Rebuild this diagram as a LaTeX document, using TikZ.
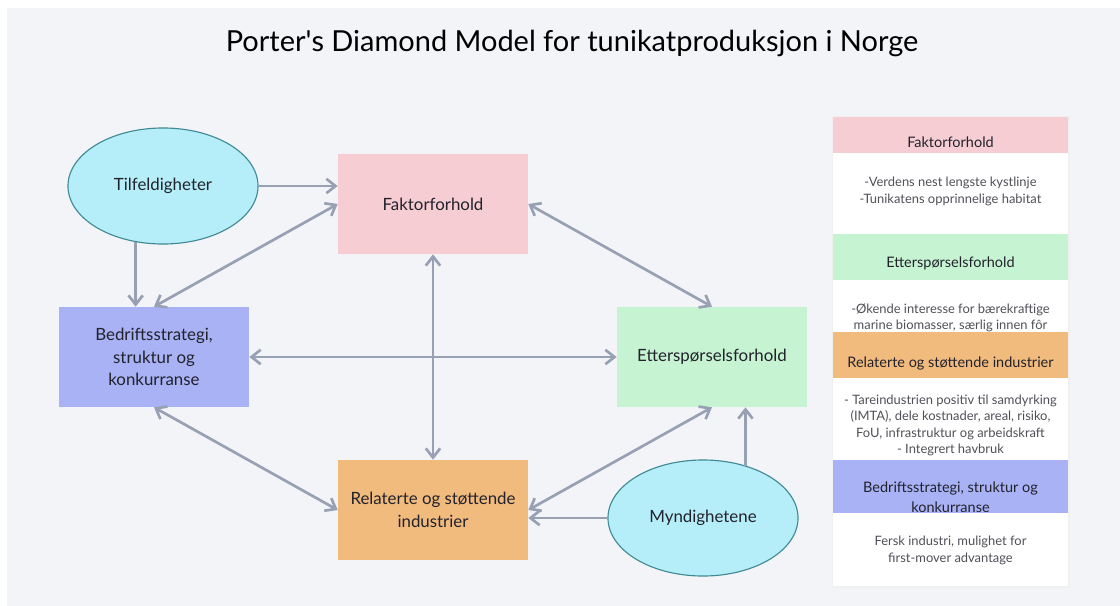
\documentclass[tikz,border=0pt]{standalone}
\usepackage{fontspec}
\setmainfont{Lato}
\usetikzlibrary{shapes.geometric,arrows.meta}

\definecolor{bgcol}{HTML}{F3F4F8}
\definecolor{txtcol}{HTML}{22222C}
\definecolor{bodycol}{HTML}{505058}
\definecolor{arrowcol}{HTML}{98A0B3}
\definecolor{faktcol}{HTML}{F6CDD3}
\definecolor{ettcol}{HTML}{C6F4D2}
\definecolor{relcol}{HTML}{F2BB7E}
\definecolor{bedcol}{HTML}{A8B2F4}
\definecolor{ellfill}{HTML}{B5EEF8}
\definecolor{elldraw}{HTML}{3F8A95}

\begin{document}
\begin{tikzpicture}[x=0.025cm,y=-0.025cm]

    % let's define some key values
    \def\panell{833}
    \def\panelr{1068}
    \def\panelc{950.5}

    % Styles
    \tikzset{
      box/.style={rectangle, minimum width=4.75cm, minimum height=2.5cm,
        align=center, text=txtcol, font=\fontsize{12}{16}\selectfont},
      chance/.style={ellipse, draw=elldraw, fill=ellfill, line width=0.8pt,
        minimum width=4.75cm, minimum height=2.9cm, inner sep=0pt,
        text=txtcol, font=\fontsize{12}{16}\selectfont},
      link/.style={draw=arrowcol, line width=1.9pt,
        -{Straight Barb[length=2.3mm,width=3.6mm]}},
      twoway/.style={link,
        {Straight Barb[length=2.3mm,width=3.6mm]}-{Straight Barb[length=2.3mm,width=3.6mm]}},
      head/.style={text=txtcol, align=center, font=\fontsize{10.3}{14.2}\selectfont},
      body/.style={text=bodycol, align=center, font=\fontsize{9.2}{11.6}\selectfont}
    }

    % background
    \fill[white] (0,0) rectangle (1120,606);
    \fill[bgcol] (7,8) rectangle (1120,606);
    \useasboundingbox (0,0) rectangle (1120,606);

    % title
    \node[text=black, font=\fontsize{20.6}{24}\selectfont] (title) at (572,43)
        {Porter\textquotesingle s Diamond Model for tunikatproduksjon i Norge};

    % the four corners of the diamond
    \node[box, fill=faktcol] (fakt) at (433,204) {Faktorforhold};
    \node[box, fill=bedcol] (bed) at (154,357)
        {Bedriftsstrategi,\\struktur og\\konkurranse};
    \node[box, fill=ettcol] (ett) at (712,357) {Etterspørselsforhold};
    \node[box, fill=relcol] (rel) at (433,510)
        {Relaterte og støttende\\industrier};

    % outside influences
    \node[chance] (tilf) at (163,186) {Tilfeldigheter};
    \node[chance] (mynd) at (703,518) {Myndighetene};

    % one-way arrows
    \draw[link] (tilf.east) -- (tilf.east -| fakt.west);
    \draw[link] (tilf.-116) -- (tilf.-116 |- bed.north);
    \draw[link] (mynd.51) -- (mynd.51 |- ett.south);
    \draw[link] (mynd.west) -- (mynd.west -| rel.east);

    % two-way arrows
    \draw[twoway] (bed.north) -- (fakt.west);
    \draw[twoway] (fakt.east) -- (ett.north);
    \draw[twoway] (bed.east) -- (ett.west);
    \draw[twoway] (fakt.south) -- (rel.north);
    \draw[twoway] (bed.south) -- (rel.west);
    \draw[twoway] (rel.east) -- (ett.south);

    % side panel
    \fill[black!6] (\panell-1.5,116) rectangle (\panelr+1.5,587.5);
    \fill[white] (\panell,117) rectangle (\panelr,586);

    % Faktorforhold
    \fill[faktcol] (\panell,117) rectangle (\panelr,153);
    \node[head] (hfakt) at (\panelc,142) {Faktorforhold};
    \node[body] (tfakt) at (\panelc,191.5)
        {-Verdens nest lengste kystlinje\\-Tunikatens opprinnelige habitat};

    % Etterspørselsforhold
    \fill[ettcol] (\panell,234) rectangle (\panelr,280);
    \node[body] (tett) at (\panelc,317.5)
        {-Økende interesse for bærekraftige\\marine biomasser, særlig innen fôr};
    \node[head] (hett) at (\panelc,263) {Etterspørselsforhold};

    % Relaterte og støttende industrier
    \fill[relcol] (\panell,332) rectangle (\panelr,378);
    \node[head] (hrel) at (\panelc,363) {Relaterte og støttende industrier};
    \node[body] (trel) at (\panelc,425.5)
        {- Tareindustrien positiv til samdyrking\\(IMTA), dele kostnader, areal, risiko,\\FoU, infrastruktur og arbeidskraft\\- Integrert havbruk};

    % Bedriftsstrategi
    \fill[bedcol] (\panell,460) rectangle (\panelr,513);
    \node[head] (hbed) at (\panelc,497)
        {Bedriftsstrategi, struktur og\\konkurranse};
    \node[body] (tbed) at (\panelc,550.5)
        {Fersk industri, mulighet for\\first-mover advantage};

\end{tikzpicture}
\end{document}
